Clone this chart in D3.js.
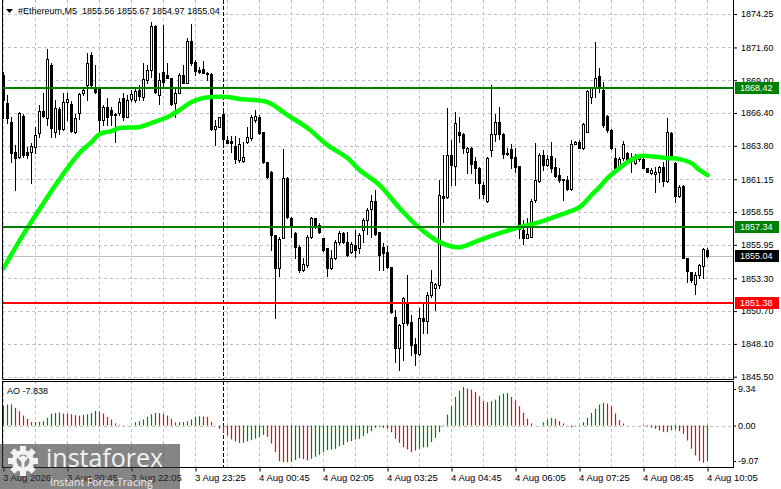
<!DOCTYPE html>
<html>
<head>
<meta charset="utf-8">
<script src="https://cdnjs.cloudflare.com/ajax/libs/d3/7.8.5/d3.min.js"></script>
<style>
  body{margin:0;background:#fff;}
  svg{display:block;font-family:"Liberation Sans",Arial,sans-serif;}
  .axis path{display:none;}
  .axis line{stroke:#000;}
  .axis text{fill:#000;font-size:9px;}
</style>
</head>
<body>
<svg id="chart" width="781" height="489"></svg>
<script>
var opens = [1869.41,1867.19,1865.69,1863.31,1862.91,1866.16,1863.31,1863.31,1863.70,1864.81,1866.56,1866.00,1870.21,1864.89,1866.72,1865.13,1867.27,1867.11,1864.89,1866.40,
  1867.99,1868.62,1871.00,1868.46,1868.38,1865.84,1866.87,1866.64,1866.32,1866.40,1867.59,1866.08,1867.51,1867.43,1868.22,1867.67,1869.02,1869.81,1873.30,1867.83,
  1869.65,1869.41,1869.17,1867.19,1867.99,1869.41,1868.78,1872.11,1870.44,1869.81,1869.89,1869.57,1869.49,1865.13,1865.29,1866.32,1864.26,1864.18,1863.78,1862.67,
  1862.59,1864.10,1864.42,1865.84,1866.08,1864.89,1862.51,1861.72,1856.72,1854.11,1856.49,1861.24,1858.07,1856.88,1855.77,1853.95,1854.35,1856.57,1858.07,1857.52,
  1856.49,1855.69,1854.11,1854.90,1856.17,1856.88,1856.17,1855.38,1855.93,1855.69,1857.12,1857.91,1858.79,1859.42,1856.96,1855.77,1855.38,1854.19,1850.22,1847.76,
  1849.75,1851.41,1849.83,1848.08,1847.29,1850.14,1849.90,1851.97,1852.52,1852.76,1859.82,1859.74,1863.07,1862.20,1864.89,1864.73,1863.31,1863.62,1862.59,1862.04,
  1860.69,1859.42,1863.46,1864.73,1865.69,1864.73,1863.23,1863.54,1862.91,1862.20,1857.12,1856.49,1856.57,1859.50,1861.01,1863.07,1862.28,1862.99,1862.12,1861.48,
  1861.17,1861.09,1860.37,1863.94,1864.10,1863.62,1864.89,1867.67,1868.38,1869.33,1868.22,1866.16,1865.05,1862.83,1862.12,1862.83,1863.23,1862.83,1862.43,1862.75,
  1862.75,1862.04,1861.64,1861.56,1861.72,1862.12,1861.01,1864.81,1862.43,1859.82,1860.61,1854.90,1853.79,1852.84,1853.55,1854.27,1855.56];
var highs = [1869.65,1867.83,1866.08,1863.86,1866.48,1866.32,1863.70,1864.02,1865.29,1867.03,1867.99,1871.47,1870.36,1867.43,1866.87,1867.99,1867.99,1867.35,1866.32,1867.99,
  1868.46,1871.16,1871.24,1870.21,1868.46,1867.03,1867.59,1866.87,1866.40,1867.59,1867.99,1867.83,1868.22,1868.38,1868.62,1870.36,1870.21,1873.62,1873.38,1869.57,
  1873.38,1870.36,1869.17,1868.46,1869.57,1870.21,1872.35,1873.46,1870.60,1870.05,1870.52,1869.65,1869.57,1865.84,1866.08,1866.64,1864.58,1864.58,1864.58,1864.42,
  1864.10,1865.29,1866.24,1866.64,1866.24,1864.89,1862.51,1861.80,1856.72,1856.57,1863.54,1861.32,1858.15,1856.96,1855.93,1854.90,1856.72,1858.15,1858.07,1857.68,
  1856.49,1855.69,1855.53,1856.33,1857.04,1856.96,1856.96,1856.17,1857.12,1856.88,1858.07,1858.87,1859.90,1860.29,1856.96,1856.09,1855.85,1854.19,1850.78,1849.67,
  1851.81,1853.55,1850.38,1848.56,1850.94,1851.41,1852.20,1853.95,1852.92,1861.09,1863.07,1866.80,1864.26,1866.48,1866.08,1864.81,1863.70,1863.70,1862.91,1862.12,
  1860.93,1862.91,1868.62,1866.32,1866.87,1864.81,1863.62,1863.94,1863.62,1862.20,1857.91,1858.07,1859.58,1864.02,1863.23,1863.46,1863.07,1864.10,1862.83,1862.04,
  1861.17,1861.40,1864.26,1864.18,1864.26,1865.61,1868.22,1868.46,1872.03,1869.97,1868.86,1866.24,1865.13,1863.62,1862.91,1864.18,1863.31,1863.23,1863.15,1863.07,
  1863.15,1862.04,1862.04,1862.12,1862.20,1862.51,1866.00,1864.89,1862.51,1860.69,1860.69,1854.90,1853.79,1853.79,1854.42,1855.69,1855.67];
var lows = [1866.00,1865.61,1862.51,1860.29,1862.83,1862.91,1862.83,1860.85,1863.23,1864.50,1866.08,1865.45,1864.50,1864.50,1864.73,1865.05,1865.84,1864.89,1864.81,1865.92,
  1867.83,1867.43,1868.38,1867.99,1864.89,1865.45,1865.45,1865.45,1864.10,1866.24,1865.84,1866.08,1867.35,1867.27,1867.43,1867.43,1868.78,1869.25,1867.99,1867.11,
  1868.46,1869.17,1867.03,1866.08,1867.99,1868.78,1868.78,1870.21,1869.41,1869.57,1869.57,1869.02,1865.05,1863.86,1865.29,1863.86,1864.02,1863.31,1862.43,1862.51,
  1862.51,1864.02,1864.26,1865.69,1864.73,1862.43,1861.24,1855.53,1850.14,1853.47,1856.49,1858.07,1856.57,1854.90,1853.79,1853.87,1854.19,1856.49,1857.28,1856.88,
  1855.46,1853.47,1854.03,1854.82,1856.01,1856.09,1855.06,1855.30,1854.98,1855.30,1856.17,1856.80,1856.57,1856.72,1853.95,1853.95,1854.11,1850.54,1846.65,1846.02,
  1846.81,1849.59,1847.21,1846.42,1847.21,1848.95,1848.95,1851.81,1850.78,1852.52,1857.76,1859.66,1860.69,1860.69,1864.10,1863.23,1861.64,1861.64,1860.85,1859.66,
  1859.66,1859.34,1862.99,1864.18,1864.34,1862.83,1863.07,1862.04,1861.72,1856.49,1856.01,1856.49,1856.57,1859.34,1860.93,1861.88,1862.20,1861.72,1861.32,1860.93,
  1859.50,1860.29,1860.29,1863.94,1863.62,1863.54,1864.89,1867.19,1867.67,1868.06,1865.29,1864.89,1863.54,1861.72,1862.04,1862.67,1862.43,1861.72,1862.35,1862.59,
  1862.04,1861.72,1861.56,1860.13,1860.93,1860.61,1860.93,1862.75,1859.34,1859.74,1854.90,1853.00,1853.00,1852.05,1853.31,1853.31,1854.97];
var closes = [1867.43,1866.00,1863.23,1862.83,1866.40,1863.07,1863.07,1863.78,1864.65,1866.56,1866.16,1870.68,1865.21,1866.80,1865.13,1867.27,1867.51,1864.97,1866.00,1867.91,
  1868.22,1870.36,1868.62,1868.06,1865.84,1866.87,1866.08,1866.24,1866.24,1867.27,1866.08,1867.43,1867.91,1868.14,1867.75,1869.10,1869.81,1873.30,1868.06,1869.02,
  1868.86,1869.17,1867.11,1867.99,1869.41,1868.78,1872.11,1870.36,1869.73,1869.65,1869.57,1869.49,1865.13,1865.37,1866.08,1864.34,1864.02,1864.02,1862.75,1863.94,
  1862.91,1864.50,1866.08,1866.16,1864.81,1862.51,1861.32,1856.72,1854.11,1856.41,1861.24,1858.15,1857.52,1855.77,1853.95,1854.42,1856.57,1858.07,1857.36,1856.96,
  1855.53,1854.11,1854.90,1856.17,1856.88,1856.17,1855.14,1856.01,1855.53,1856.72,1857.91,1858.71,1859.42,1856.80,1855.14,1855.30,1854.19,1850.62,1847.76,1849.59,
  1851.73,1849.75,1848.00,1847.37,1850.14,1849.90,1851.97,1853.00,1852.84,1859.90,1859.66,1863.07,1862.28,1865.61,1864.65,1863.62,1863.62,1862.35,1862.04,1860.85,
  1859.98,1862.83,1864.73,1865.69,1864.73,1863.15,1863.15,1862.83,1862.12,1857.20,1856.49,1856.80,1859.42,1861.09,1863.07,1862.28,1862.75,1862.04,1861.40,1861.09,
  1861.09,1860.37,1863.94,1864.10,1863.62,1865.53,1868.14,1868.38,1869.17,1868.46,1865.45,1865.05,1863.62,1862.04,1862.75,1863.94,1862.67,1862.59,1862.75,1862.99,
  1862.04,1861.72,1861.88,1861.72,1862.12,1861.01,1864.89,1862.83,1859.82,1860.53,1854.90,1853.87,1853.16,1853.55,1854.35,1855.61,1855.04];

// moving average at these bars
var maBars = [0,5,10,13,16,19,22,24,27,29,34,37,41,44,47,50,56,59,66,71,76,81,86,89,94,99,104,109,114,119,124,129,134,139,144,147,149,151,154,156,159,161,166,169,172,174,176];
var maValues = [1854.11,1856.80,1859.26,1860.69,1862.04,1863.23,1864.10,1864.73,1864.97,1865.21,1865.29,1865.61,1866.08,1866.64,1867.27,1867.59,1867.67,1867.51,1867.27,1866.24,
  1865.21,1863.86,1862.83,1861.88,1860.69,1858.87,1857.28,1856.17,1855.77,1856.33,1856.88,1857.36,1857.76,1858.31,1858.94,1859.90,1860.53,1861.24,1862.04,1862.51,
  1862.99,1862.99,1862.83,1862.75,1862.43,1861.88,1861.48];

var aoValues = [5.10,5.36,5.40,4.51,3.66,2.55,1.70,0.85,0.90,0.95,1.10,1.96,3.06,3.23,3.32,3.06,2.98,2.89,2.64,2.55,
  2.72,2.89,3.23,3.74,3.57,3.06,2.21,1.53,0.51,0.17,0.08,0.05,0.03,0.85,1.10,1.53,2.21,2.89,3.23,3.15,
  2.98,2.55,1.70,0.80,0.85,0.90,1.02,1.53,2.21,2.38,2.30,2.21,0.94,-0.05,-0.85,-1.87,-2.55,-3.57,-4.00,-4.42,
  -4.40,-4.08,-3.74,-3.32,-2.89,-2.38,-2.89,-4.59,-6.80,-9.10,-9.35,-9.40,-9.30,-8.84,-8.33,-8.60,-8.90,-8.50,-8.00,-7.48,
  -6.80,-6.29,-6.12,-5.95,-5.27,-4.93,-4.25,-4.00,-3.57,-3.40,-2.72,-2.04,-1.45,-0.60,-0.34,-0.60,-0.85,-1.70,-3.40,-4.42,
  -5.53,-6.12,-6.80,-6.38,-5.95,-5.61,-5.53,-4.25,-3.15,-1.70,-0.17,2.81,4.93,7.31,8.93,9.90,9.44,9.18,8.59,7.48,
  6.21,5.95,6.21,6.63,7.65,8.16,8.33,7.31,6.46,4.93,3.23,1.70,0.51,0.02,0.00,0.85,1.53,1.96,1.70,1.11,
  0.51,0.08,-0.43,-0.17,0.05,0.85,1.96,3.23,4.25,5.36,5.78,5.61,4.93,3.06,1.36,0.51,0.03,0.02,0.04,0.02,
  -0.10,-0.26,-0.51,-0.85,-1.28,-1.62,-1.70,-1.28,-1.02,-1.45,-2.13,-3.83,-5.95,-7.65,-9.10,-9.52,-9.10];

var priceTicks = [1874.25,1871.60,1869.00,1866.40,1863.80,1861.15,1858.55,1855.95,1853.30,1850.70,1848.10,1845.50];
var aoTicks = [9.34,0,-9.07];
var timeBars = [0,16,32,48,64,80,96,112,128,144,160,176];
var timeLabels = ["3 Aug 2026","3 Aug 20:45","3 Aug 22:05","3 Aug 23:25","4 Aug 00:45","4 Aug 02:05",
  "4 Aug 03:25","4 Aug 04:45","4 Aug 06:05","4 Aug 07:25","4 Aug 08:45","4 Aug 10:05"];
var greenLevels = [1868.42,1857.34];
var redLevels = [1851.38];
var lastPrice = 1855.04;
var daySeparatorBar = 55;
var headerText = "#Ethereum,M5  1855.56 1855.67 1854.97 1855.04";
var aoText = "AO -7.838";

class EthChart {
  constructor(){
    this.svg = d3.select("#chart");
    this.main = {left:2, right:733, top:0, bottom:379};
    this.sub = {top:381, bottom:467};
    this.x = d3.scaleLinear().domain([0,176]).range([3.5,707.5]);
    this.y = d3.scaleLinear().domain([1845.50,1874.25]).range([376.7,14]);
    this.yAo = d3.scaleLinear().domain([-9.07,9.34]).range([461,389]);
  }
  snap(v){ return Math.round(v) + 0.5; }

  drawGrid(){
    var c = this, g = this.svg.append("g").attr("stroke","#c0c0c0").attr("stroke-dasharray","3,3");
    g.append("g").selectAll("line").data(priceTicks).join("line")
      .attr("x1",c.main.left).attr("x2",c.main.right)
      .attr("y1",d=>c.snap(c.y(d))).attr("y2",d=>c.snap(c.y(d)));
    var vBars = d3.range(0,177,8);
    g.append("g").selectAll("line").data(vBars).join("line")
      .attr("x1",d=>c.x(d)).attr("x2",d=>c.x(d)).attr("y1",c.main.top).attr("y2",c.main.bottom);
    g.append("g").selectAll("line").data(vBars).join("line")
      .attr("x1",d=>c.x(d)).attr("x2",d=>c.x(d)).attr("y1",c.sub.top).attr("y2",c.sub.bottom);
    g.append("line").attr("x1",c.main.left).attr("x2",c.main.right)
      .attr("y1",c.snap(c.yAo(0))).attr("y2",c.snap(c.yAo(0)));

    // day separator
    var sx = this.x(daySeparatorBar);
    this.svg.append("g").attr("stroke","#000").attr("stroke-dasharray","4,2")
      .selectAll("line").data([[c.main.top,c.main.bottom],[c.sub.top,c.sub.bottom]]).join("line")
      .attr("x1",sx).attr("x2",sx).attr("y1",d=>d[0]).attr("y2",d=>d[1]);

    this.svg.append("line").attr("x1",c.main.left).attr("x2",c.main.right)
      .attr("y1",c.snap(c.y(lastPrice))).attr("y2",c.snap(c.y(lastPrice)))
      .attr("stroke","#c0c0c0");
  }

  drawCandles(){
    var c = this;
    var bars = opens.map((o,i)=>({i:i,o:o,h:highs[i],l:lows[i],c:closes[i]}));
    var g = this.svg.append("g");
    g.append("g").selectAll("line").data(bars).join("line")
      .attr("x1",d=>c.x(d.i)).attr("x2",d=>c.x(d.i))
      .attr("y1",d=>Math.round(c.y(d.h))).attr("y2",d=>Math.round(c.y(d.l))+1)
      .attr("stroke","#000");
    var bull = bars.filter(d=>d.c>=d.o), bear = bars.filter(d=>d.c<d.o);
    g.append("g").selectAll("rect").data(bull).join("rect")
      .attr("x",d=>c.x(d.i)-1).attr("width",2)
      .attr("y",d=>Math.round(c.y(d.c))+0.5)
      .attr("height",d=>Math.max(Math.round(c.y(d.o))-Math.round(c.y(d.c)),1))
      .attr("fill","#fff").attr("stroke","#000");
    g.append("g").selectAll("rect").data(bear).join("rect")
      .attr("x",d=>c.x(d.i)-1.5).attr("width",3)
      .attr("y",d=>Math.round(c.y(d.o)))
      .attr("height",d=>Math.max(Math.round(c.y(d.c))-Math.round(c.y(d.o)),1)+1)
      .attr("fill","#000");
  }

  drawIndicators(){
    var c = this;
    var line = d3.line().x(d=>c.x(d[0])).y(d=>c.y(d[1])).curve(d3.curveCatmullRom);
    this.svg.append("path").datum(maBars.map((b,i)=>[b,maValues[i]]))
      .attr("d",line).attr("fill","none").attr("stroke","#00ff00")
      .attr("stroke-width",4.5).attr("stroke-linecap","round");

    var levels = this.svg.append("g").attr("stroke-width",2);
    levels.selectAll(".g").data(greenLevels).join("line").attr("stroke","#008000")
      .attr("x1",c.main.left).attr("x2",c.main.right)
      .attr("y1",d=>Math.round(c.y(d))).attr("y2",d=>Math.round(c.y(d)));
    levels.selectAll(".r").data(redLevels).join("line").attr("stroke","#ff0000")
      .attr("x1",c.main.left).attr("x2",c.main.right)
      .attr("y1",d=>Math.round(c.y(d))).attr("y2",d=>Math.round(c.y(d)));

    // awesome oscillator histogram
    var z = this.yAo(0);
    this.svg.append("g").selectAll("line").data(aoValues).join("line")
      .attr("x1",(d,i)=>c.x(i)).attr("x2",(d,i)=>c.x(i))
      .attr("y1",z).attr("y2",d=>c.yAo(d))
      .attr("stroke",(d,i)=> (i==0 || d>aoValues[i-1]) ? "#008000" : "#ff0000")
      .attr("stroke-width",1.2);
  }

  drawAxes(){
    var c = this;
    var priceAxis = d3.axisRight(this.y).tickValues(priceTicks).tickSize(4).tickPadding(4)
      .tickFormat(d=>d.toFixed(2));
    this.svg.append("g").attr("class","axis").attr("transform","translate("+c.main.right+",0)").call(priceAxis);

    var aoAxis = d3.axisRight(this.yAo).tickValues(aoTicks).tickSize(3).tickPadding(2)
      .tickFormat(d=>d.toFixed(2));
    this.svg.append("g").attr("class","axis").attr("transform","translate("+c.main.right+",0)").call(aoAxis);

    var timeAxis = d3.axisBottom(this.x).tickValues(timeBars).tickSize(4)
      .tickFormat((d,i)=>timeLabels[i]);
    var t = this.svg.append("g").attr("class","axis").attr("transform","translate(0,"+(c.sub.bottom+0.5)+")").call(timeAxis);
    t.selectAll("text").attr("text-anchor","start").attr("x",-1).attr("y",13).attr("dy",0).style("font-size","9.5px");

    // frames
    var f = this.svg.append("g").attr("stroke","#000").attr("fill","none");
    f.append("path").attr("d","M"+(c.main.left+0.5)+","+c.main.top+"V"+(c.main.bottom+0.5)+"H"+(c.main.right+0.5)+"V"+c.main.top);
    f.append("rect").attr("x",c.main.left+0.5).attr("y",c.sub.top+0.5)
      .attr("width",c.main.right-c.main.left).attr("height",c.sub.bottom-c.sub.top);

    // price tags on the scale
    var tags = greenLevels.map(v=>[v,"#008000"]).concat([[lastPrice,"#000"]]).concat(redLevels.map(v=>[v,"#ff0000"]));
    var tg = this.svg.append("g").selectAll("g").data(tags).join("g")
      .attr("transform",d=>"translate(735,"+Math.round(c.y(d[0]))+")");
    tg.append("rect").attr("x",0).attr("y",-6).attr("width",44).attr("height",12).attr("fill",d=>d[1]);
    tg.append("text").attr("x",5).attr("dy","0.35em").attr("fill","#fff").attr("font-size","9px")
      .text(d=>d[0].toFixed(2));
  }

  drawLabels(){
    this.svg.append("path").attr("d","M6,9 L13,9 L9.5,13 Z").attr("fill","#000");
    this.svg.append("text").attr("x",18).attr("y",14).attr("font-size","9px").attr("fill","#000").text(headerText)
      .attr("xml:space","preserve").style("white-space","pre");
    this.svg.append("text").attr("x",7).attr("y",394).attr("font-size","9px").attr("fill","#000").text(aoText);
  }

  drawWatermark(){
    var w = this.svg.append("g");
    w.append("rect").attr("x",0).attr("y",444).attr("width",180).attr("height",45)
      .attr("fill","#333").attr("opacity",0.6);
    var gear = w.append("g").attr("transform","translate(23,461)").attr("fill","#f2f2f2");
    gear.selectAll("rect").data(d3.range(8)).join("rect")
      .attr("x",-3).attr("y",-15).attr("width",6).attr("height",6)
      .attr("transform",d=>"rotate("+(d*45)+")");
    gear.append("circle").attr("r",11);
    gear.append("circle").attr("r",6.5).attr("fill","#8a8a8a");
    gear.append("circle").attr("cy",-3).attr("r",2.6);
    gear.append("path").attr("d","M-6,-4 L-1.5,1 L-1.5,10 L1.5,10 L1.5,1 L6,-4 L4,-5 L0,-1 L-4,-5 Z");
    w.append("text").attr("x",46).attr("y",467).attr("font-family","'Open Sans',sans-serif")
      .attr("font-size","25px").attr("fill","#f2f2f2").text("instaforex");
    w.append("text").attr("x",50).attr("y",486).attr("font-family","'Open Sans',sans-serif")
      .attr("font-size","10.5px").attr("fill","#eeeeee").text("Instant Forex Tracing");
  }

  render(){
    this.drawGrid();
    this.drawCandles();
    this.drawIndicators();
    this.drawAxes();
    this.drawLabels();
    this.drawWatermark();
  }
}

var chart = new EthChart();
chart.render();
</script>
</body>
</html>
